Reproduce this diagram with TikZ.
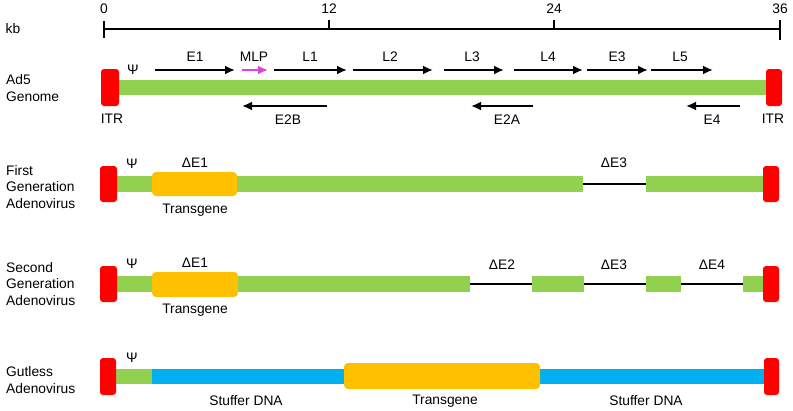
\documentclass[tikz,border=0pt]{standalone}
\usepackage{fontspec}
\setmainfont{Liberation Sans}
\usetikzlibrary{arrows.meta}
\definecolor{itrred}{HTML}{FF0000}
\definecolor{dnagreen}{HTML}{92D050}
\definecolor{tgorange}{HTML}{FFC000}
\definecolor{stuffblue}{HTML}{00B0F0}
\definecolor{mlppink}{HTML}{E040E0}

\begin{document}
\begin{tikzpicture}[x=1pt,y=-1pt,>={Latex[length=10pt,width=9pt]},
  lbl/.style={font=\fontsize{13.8}{16.6}\selectfont,inner sep=0pt},
  rowlbl/.style={lbl,anchor=west,align=left},
  itr/.style={fill=itrred,rounded corners=3pt},
  tgene/.style={fill=tgorange,rounded corners=4pt},
  gene/.style={->,line width=2pt},
  deleted/.style={line width=2pt}]
  \useasboundingbox (0,0) rectangle (793,410);

  % scale bar
  \node[lbl] (kb) at (13,29) {kb};
  \draw[line width=2pt] (104,29) -- (780,29);
  \draw[line width=2pt] (104,21) -- (104,38);
  \draw[line width=2pt] (329,20) -- (329,29);
  \draw[line width=2pt] (554,20) -- (554,29);
  \draw[line width=2pt] (780,20) -- (780,40);
  \node[lbl] (k0) at (104,9) {0};
  \node[lbl] (k12) at (329,9) {12};
  \node[lbl] (k24) at (554,9) {24};
  \node[lbl] (k36) at (780,9) {36};

  % Ad5 genome
  \node[rowlbl] (ad5) at (6,88) {Ad5\\Genome};
  \fill[dnagreen] (117,80) rectangle (766,95);
  \fill[itr] (101,69) rectangle (119,106);
  \fill[itr] (766,69) rectangle (782,106);
  \node[lbl] (itrl) at (112,119) {ITR};
  \node[lbl] (itrr) at (773,119) {ITR};
  \node[lbl] (psi1) at (133,70) {Ψ};
  \draw[gene] (155,70) -- (235,70);
  \node[lbl] (e1) at (195,57) {E1};
  \draw[gene,mlppink] (242,70) -- (268,70);
  \node[lbl] (mlp) at (254,57) {MLP};
  \draw[gene] (274,70) -- (347,70);
  \node[lbl] (l1) at (310,57) {L1};
  \draw[gene] (353,70) -- (433,70);
  \node[lbl] (l2) at (390,57) {L2};
  \draw[gene] (444,70) -- (504,70);
  \node[lbl] (l3) at (472,57) {L3};
  \draw[gene] (514,70) -- (583,70);
  \node[lbl] (l4) at (548,57) {L4};
  \draw[gene] (587,70) -- (648,70);
  \node[lbl] (e3) at (617,57) {E3};
  \draw[gene] (651,70) -- (713,70);
  \node[lbl] (l5) at (680,57) {L5};
  \draw[gene] (327,106) -- (242,106);
  \node[lbl] (e2b) at (288,120) {E2B};
  \draw[gene] (533,106) -- (471,106);
  \node[lbl] (e2a) at (507,120) {E2A};
  \draw[gene] (740,106) -- (686,106);
  \node[lbl] (e4) at (712,120) {E4};

  % first generation
  \node[rowlbl] (first) at (6,187) {First\\Generation\\Adenovirus};
  \fill[dnagreen] (115,176) rectangle (583,192);
  \fill[dnagreen] (646,176) rectangle (765,192);
  \draw[deleted] (583,184) -- (646,184);
  \fill[tgene] (152,172) rectangle (237,196);
  \fill[itr] (100,166) rectangle (117,202);
  \fill[itr] (763,166) rectangle (779,202);
  \node[lbl] (psi2) at (132,164) {Ψ};
  \node[lbl] (de1a) at (195,163) {ΔE1};
  \node[lbl] (tga) at (195,210) {Transgene};
  \node[lbl] (de3a) at (614,163) {ΔE3};

  % second generation
  \node[rowlbl] (second) at (6,284) {Second\\Generation\\Adenovirus};
  \fill[dnagreen] (115,276) rectangle (470,292);
  \fill[dnagreen] (532,276) rectangle (584,292);
  \fill[dnagreen] (646,276) rectangle (681,292);
  \fill[dnagreen] (743,276) rectangle (765,292);
  \draw[deleted] (470,284) -- (532,284);
  \draw[deleted] (584,284) -- (646,284);
  \draw[deleted] (681,284) -- (743,284);
  \fill[tgene] (152,272) rectangle (238,297);
  \fill[itr] (100,266) rectangle (117,302);
  \fill[itr] (763,266) rectangle (779,302);
  \node[lbl] (psi3) at (132,264) {Ψ};
  \node[lbl] (de1b) at (195,263) {ΔE1};
  \node[lbl] (tgb) at (195,310) {Transgene};
  \node[lbl] (de2) at (502,265) {ΔE2};
  \node[lbl] (de3b) at (614,265) {ΔE3};
  \node[lbl] (de4) at (712,265) {ΔE4};

  % gutless
  \node[rowlbl] (gutless) at (6,380) {Gutless\\Adenovirus};
  \fill[dnagreen] (115,369) rectangle (152,384);
  \fill[stuffblue] (152,369) rectangle (765,384);
  \fill[tgene] (344,363) rectangle (540,389);
  \fill[itr] (100,358) rectangle (116,395);
  \fill[itr] (764,358) rectangle (779,395);
  \node[lbl] (psi4) at (132,358) {Ψ};
  \node[lbl] (stfa) at (246,401) {Stuffer DNA};
  \node[lbl] (tgc) at (445,401) {Transgene};
  \node[lbl] (stfb) at (646,401) {Stuffer DNA};
\end{tikzpicture}
\end{document}
